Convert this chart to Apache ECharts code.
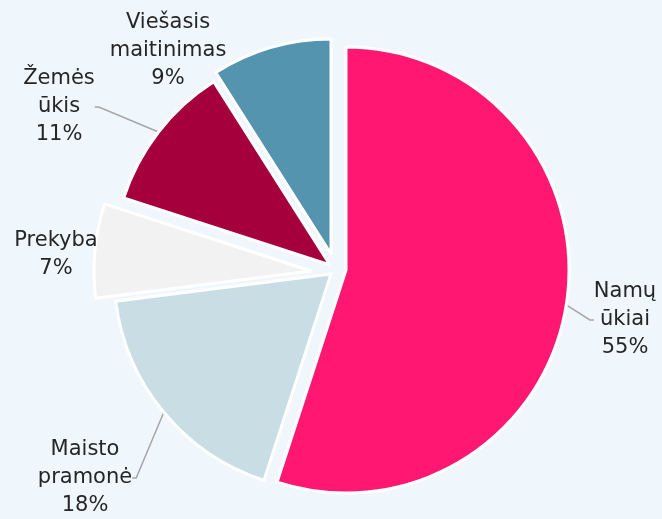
<!DOCTYPE html>
<html>
<head>
<meta charset="utf-8">
<script src="https://cdn.jsdelivr.net/npm/echarts@6/dist/echarts.min.js"></script>
<style>
html,body{margin:0;padding:0;background:#eff7fd;}
#chart{width:662px;height:519px;}
</style>
</head>
<body>
<div id="chart"></div>
<script>
// ---- data ----
var categories = ['Namų ūkiai', 'Maisto pramonė', 'Prekyba', 'Žemės ūkis', 'Viešasis maitinimas'];
var values = [55, 18, 7, 11, 9];

// ---- styling / layout (not data) ----
var colors = ['#ff1771', '#c8dde4', '#f2f2f2', '#a5003c', '#5594ae'];
// each slice is drawn slightly exploded: own center and radius
var sliceCenters = [[346, 270], [331, 274], [311, 271], [330, 265], [331, 254]];
var sliceRadii = [223, 217, 217, 217, 215];
var labelPos = [[625, 320], [85, 478], [56, 255], [59, 107], [168, 51]];
var showLine = [true, true, false, true, false];

var chart = echarts.init(document.getElementById('chart'), null, {renderer: 'canvas'});

var series = categories.map(function (_, k) {
  return {
    type: 'pie',
    center: sliceCenters[k],
    radius: [0, sliceRadii[k]],
    startAngle: 90,
    clockwise: true,
    avoidLabelOverlap: false,
    silent: true,
    percentPrecision: 0,
    label: {
      show: true,
      position: 'outside',
      formatter: function (p) { return p.name.replace(' ', '\n') + '\n' + p.percent + '%'; },
      fontFamily: 'DejaVu Sans, sans-serif',
      fontSize: 21,
      lineHeight: 28,
      color: '#262626',
      align: 'center'
    },
    labelLine: {
      show: true,
      length: 10,
      length2: 4,
      smooth: false,
      lineStyle: {color: '#a6a6a6', width: 1.5}
    },
    labelLayout: function () {
      return {x: labelPos[k][0], y: labelPos[k][1], align: 'center', verticalAlign: 'middle'};
    },
    emphasis: {disabled: true},
    data: categories.map(function (name, i) {
      var mine = i === k;
      return {
        name: name,
        value: values[i],
        itemStyle: mine
          ? {color: colors[i], borderColor: '#ffffff', borderWidth: 3}
          : {color: 'rgba(0,0,0,0)', borderWidth: 0},
        label: {show: mine},
        labelLine: {show: mine && showLine[i]}
      };
    })
  };
});

chart.setOption({
  backgroundColor: '#eff7fd',
  animation: false,
  series: series
});
</script>
</body>
</html>
